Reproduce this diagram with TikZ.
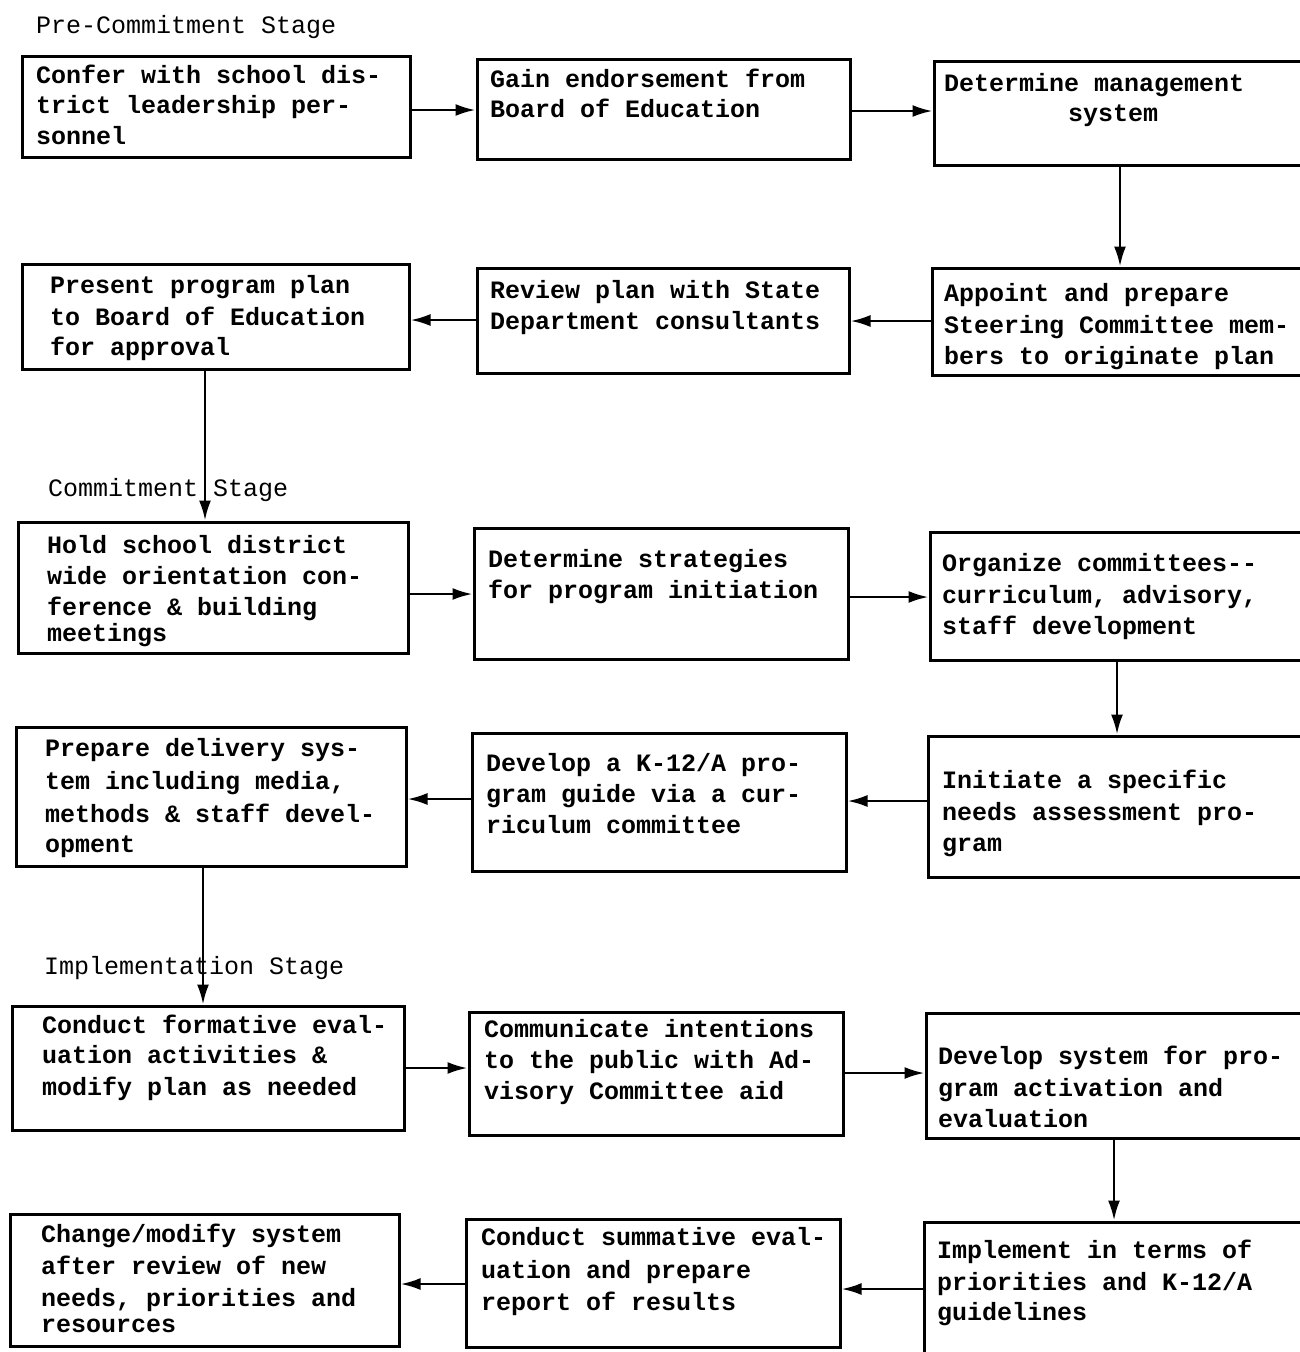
\documentclass[tikz,border=0pt]{standalone}
\usepackage{fontspec}
\setmonofont{Liberation Mono}
\usetikzlibrary{fit,arrows.meta}
\tikzset{
  boxline/.style={draw=black, line width=3pt, inner sep=0pt, fill=none},
  txt/.style={anchor=base west, inner sep=0pt, font=\ttfamily\bfseries\fontsize{25}{31}\selectfont},
  arr/.style={line width=2.6pt, -{Latex[length=20pt,width=12pt]}},
  stagelbl/.style={anchor=base west, inner sep=0pt, font=\ttfamily\fontsize{25}{31}\selectfont}
}
\newcommand\bx[5]{\node[boxline, fit={(#2,#3) (#4,#5)}] (#1) {};}
\newcommand\tl[4]{\node[txt] (#1) at (#2,#3) {#4};}
\begin{document}
\begin{tikzpicture}[x=1pt,y=-1pt]
\useasboundingbox (0,0) rectangle (1300,1352);
\clip (0,0) rectangle (1300,1352);
% stage labels
\node[stagelbl] (s1) at (36,33) {Pre-Commitment Stage};
\node[stagelbl] (s2) at (48,496) {Commitment Stage};
\node[stagelbl] (s3) at (44,974) {Implementation Stage};
% row 1
\bx{a1}{22}{56}{410}{157}
\bx{a2}{477}{59}{850}{159}
\bx{a3}{934}{61}{1320}{165}
\tl{a1a}{36}{83}{Confer with school dis-}
\tl{a1b}{36}{113}{trict leadership per-}
\tl{a1c}{36}{144}{sonnel}
\tl{a2a}{490}{87}{Gain endorsement from}
\tl{a2b}{490}{117}{Board of Education}
\tl{a3a}{944}{91}{Determine management}
\node[txt, anchor=base] (a3b) at (1113,121) {system};
% row 2
\bx{b1}{22}{264}{409}{369}
\bx{b2}{477}{268}{849}{373}
\bx{b3}{932}{268}{1320}{375}
\tl{b1a}{50}{293}{Present program plan}
\tl{b1b}{50}{325}{to Board of Education}
\tl{b1c}{50}{355}{for approval}
\tl{b2a}{490}{298}{Review plan with State}
\tl{b2b}{490}{329}{Department consultants}
\tl{b3a}{944}{301}{Appoint and prepare}
\tl{b3b}{944}{333}{Steering Committee mem-}
\tl{b3c}{944}{364}{bers to originate plan}
% row 3
\bx{c1}{18}{522}{408}{653}
\bx{c2}{474}{528}{848}{659}
\bx{c3}{930}{532}{1320}{660}
\tl{c1a}{47}{553}{Hold school district}
\tl{c1b}{47}{584}{wide orientation con-}
\tl{c1c}{47}{615}{ference \& building}
\tl{c1d}{47}{641}{meetings}
\tl{c2a}{488}{567}{Determine strategies}
\tl{c2b}{488}{598}{for program initiation}
\tl{c3a}{942}{571}{Organize committees--}
\tl{c3b}{942}{603}{curriculum, advisory,}
\tl{c3c}{942}{634}{staff development}
% row 4
\bx{d1}{16}{727}{406}{866}
\bx{d2}{472}{733}{846}{871}
\bx{d3}{928}{736}{1320}{877}
\tl{d1a}{45}{756}{Prepare delivery sys-}
\tl{d1b}{45}{789}{tem including media,}
\tl{d1c}{45}{822}{methods \& staff devel-}
\tl{d1d}{45}{852}{opment}
\tl{d2a}{486}{771}{Develop a K-12/A pro-}
\tl{d2b}{486}{802}{gram guide via a cur-}
\tl{d2c}{486}{833}{riculum committee}
\tl{d3a}{942}{788}{Initiate a specific}
\tl{d3b}{942}{820}{needs assessment pro-}
\tl{d3c}{942}{851}{gram}
% row 5
\bx{e1}{12}{1006}{404}{1130}
\bx{e2}{469}{1012}{843}{1135}
\bx{e3}{926}{1013}{1320}{1138}
\tl{e1a}{42}{1033}{Conduct formative eval-}
\tl{e1b}{42}{1063}{uation activities \&}
\tl{e1c}{42}{1095}{modify plan as needed}
\tl{e2a}{484}{1037}{Communicate intentions}
\tl{e2b}{484}{1068}{to the public with Ad-}
\tl{e2c}{484}{1099}{visory Committee aid}
\tl{e3a}{938}{1064}{Develop system for pro-}
\tl{e3b}{938}{1096}{gram activation and}
\tl{e3c}{938}{1127}{evaluation}
% row 6
\bx{f1}{10}{1214}{399}{1346}
\bx{f2}{466}{1219}{840}{1347}
\bx{f3}{924}{1222}{1320}{1365}
\tl{f1a}{41}{1242}{Change/modify system}
\tl{f1b}{41}{1274}{after review of new}
\tl{f1c}{41}{1306}{needs, priorities and}
\tl{f1d}{41}{1332}{resources}
\tl{f2a}{481}{1245}{Conduct summative eval-}
\tl{f2b}{481}{1278}{uation and prepare}
\tl{f2c}{481}{1310}{report of results}
\tl{f3a}{937}{1258}{Implement in terms of}
\tl{f3b}{937}{1290}{priorities and K-12/A}
\tl{f3c}{937}{1320}{guidelines}
% connectors
\draw[arr] (a1.east |- 0,110) -- (a2.west |- 0,110);
\draw[arr] (a2.east |- 0,111) -- (a3.west |- 0,111);
\draw[arr] (a3.south -| 1120,0) -- (b3.north -| 1120,0);
\draw[arr] (b3.west |- 0,321) -- (b2.east |- 0,321);
\draw[arr] (b2.west |- 0,320) -- (b1.east |- 0,320);
\draw[arr] (b1.south -| 205,0) -- (c1.north -| 205,0);
\draw[arr] (c1.east |- 0,594) -- (c2.west |- 0,594);
\draw[arr] (c2.east |- 0,597) -- (c3.west |- 0,597);
\draw[arr] (c3.south -| 1117,0) -- (d3.north -| 1117,0);
\draw[arr] (d3.west |- 0,801) -- (d2.east |- 0,801);
\draw[arr] (d2.west |- 0,799) -- (d1.east |- 0,799);
\draw[arr] (d1.south -| 203,0) -- (e1.north -| 203,0);
\draw[arr] (e1.east |- 0,1068) -- (e2.west |- 0,1068);
\draw[arr] (e2.east |- 0,1073) -- (e3.west |- 0,1073);
\draw[arr] (e3.south -| 1114,0) -- (f3.north -| 1114,0);
\draw[arr] (f3.west |- 0,1289) -- (f2.east |- 0,1289);
\draw[arr] (f2.west |- 0,1284) -- (f1.east |- 0,1284);
\end{tikzpicture}
\end{document}
